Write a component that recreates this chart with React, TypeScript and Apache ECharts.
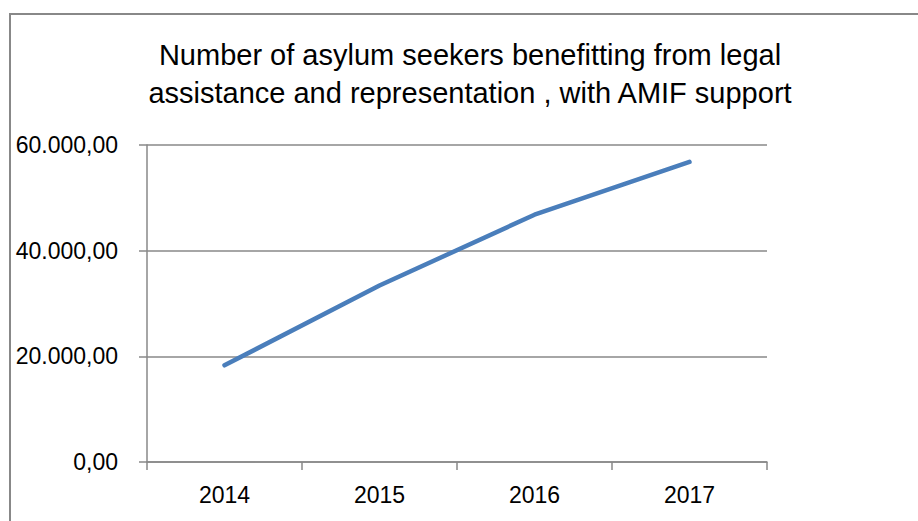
import React, { useEffect, useRef } from "react";
import * as echarts from "echarts";

const titleLines = [
  "Number of asylum seekers benefitting from legal",
  "assistance and representation , with AMIF support",
];
const years = ["2014", "2015", "2016", "2017"];
const seekers = [18300, 33400, 46800, 56800];
const yMin = 0;
const yMax = 60000;
const yStep = 20000;

function fmt(v: number): string {
  const s = Math.round(v).toString().replace(/\B(?=(\d{3})+(?!\d))/g, ".");
  return s + ",00";
}

const FONT = "'Liberation Sans', Arial, sans-serif";
const GRAY = "#888888";

export default function App() {
  const ref = useRef<HTMLDivElement>(null);
  useEffect(() => {
    if (!ref.current) return;
    const chart = echarts.init(ref.current, undefined, { renderer: "svg" });
    chart.setOption({
      animation: false,
      backgroundColor: "#ffffff",
      grid: { left: 147, top: 145, width: 620, height: 317, containLabel: false },
      graphic: [
        {
          type: "rect",
          shape: { x: 10, y: 14, width: 1000, height: 1000 },
          style: { fill: "none", stroke: GRAY, lineWidth: 2 },
          silent: true,
        },
        {
          type: "text",
          x: 470,
          y: 55,
          style: {
            text: titleLines[0],
            font: `29px ${FONT}`,
            fill: "#000",
            textAlign: "center",
            textVerticalAlign: "middle",
          },
        },
        {
          type: "text",
          x: 470,
          y: 93,
          style: {
            text: titleLines[1],
            font: `29px ${FONT}`,
            fill: "#000",
            textAlign: "center",
            textVerticalAlign: "middle",
          },
        },
      ],
      xAxis: {
        type: "category",
        data: years,
        boundaryGap: true,
        axisLine: { show: true, lineStyle: { color: GRAY, width: 1.5 } },
        axisTick: { show: true, length: 8, alignWithLabel: false, lineStyle: { color: GRAY, width: 1.5 } },
        axisLabel: { color: "#000", fontSize: 23, fontFamily: FONT, margin: 21 },
        splitLine: { show: false },
      },
      yAxis: {
        type: "value",
        min: yMin,
        max: yMax,
        interval: yStep,
        axisLine: { show: true, lineStyle: { color: GRAY, width: 1.5 } },
        axisTick: { show: true, length: 8, lineStyle: { color: GRAY, width: 1.5 } },
        axisLabel: {
          color: "#000",
          fontSize: 23,
          fontFamily: FONT,
          margin: 29,
          formatter: (v: number) => fmt(v),
        },
        splitLine: { show: true, lineStyle: { color: GRAY, width: 1.5 } },
      },
      series: [
        {
          type: "line",
          data: seekers,
          showSymbol: false,
          symbol: "none",
          lineStyle: { color: "#4a7ebb", width: 4.5, cap: "round", join: "round" },
          itemStyle: { color: "#4a7ebb" },
        },
      ],
    });
    return () => chart.dispose();
  }, []);
  return (
    <div
      ref={ref}
      style={{ position: "absolute", left: 0, top: 0, width: 918, height: 521 }}
    />
  );
}
